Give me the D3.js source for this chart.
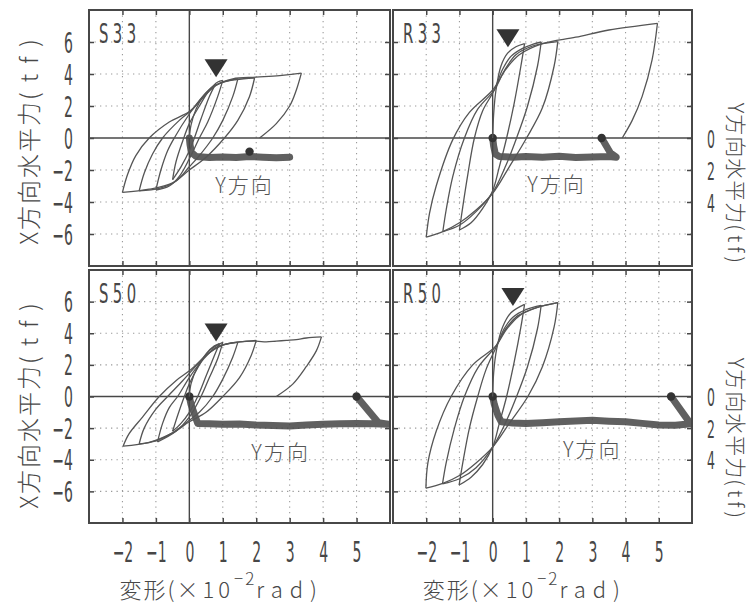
<!DOCTYPE html>
<html><head><meta charset="utf-8">
<script src="https://cdn.jsdelivr.net/npm/d3@7"></script>
<style>body{margin:0;background:#fff}svg{display:block}</style>
</head><body>
<svg id="c" width="754" height="604"></svg>
<script>
// ---------------- data ----------------
const panelNames = ["S33", "R33", "S50", "R50"];
const xTickVals = [-2, -1, 0, 1, 2, 3, 4, 5];
const yTickVals = [-6, -4, -2, 0, 2, 4, 6];
const yDirTickVals = [0, 2, 4];

// X-direction hysteresis branches [deformation (x10^-2 rad), X force (tf)]
const s33X = [
  [[0,0],[0.05,0.8],[0.2,1.8],[0.45,2.7],[0.78,3.35]],
  [[0.78,3.35],[0.6,2.6],[0.35,1.2],[0.15,0],[0,-0.8],[-0.25,-1.8],[-0.5,-2.6]],
  [[-0.5,-2.6],[-0.4,-1.5],[-0.2,-0.2],[0,0.9],[0.3,2.0],[0.6,3.0],[0.85,3.5],[1.0,3.6]],
  [[1.0,3.6],[0.85,2.6],[0.55,1.0],[0.3,0],[0,-1.3],[-0.3,-2.4],[-0.6,-3.0],[-1.0,-3.25]],
  [[-1.0,-3.25],[-0.85,-2.0],[-0.65,-0.8],[-0.45,0],[0,1.5],[0.4,2.6],[0.7,3.2],[1.0,3.5],[1.45,3.7]],
  [[1.45,3.7],[1.3,2.6],[1.0,1.1],[0.7,0],[0.3,-1.1],[0,-1.8],[-0.4,-2.7],[-0.9,-3.15],[-1.5,-3.3]],
  [[-1.5,-3.3],[-1.35,-2.2],[-1.1,-1.0],[-0.8,0],[-0.3,1.1],[0.1,1.8],[0.5,2.8],[0.9,3.4],[1.4,3.65],[1.95,3.75]],
  [[1.95,3.75],[1.8,2.6],[1.45,1.1],[1.05,0],[0.5,-1.2],[0,-2.0],[-0.5,-2.8],[-1.2,-3.2],[-2.0,-3.4]],
  [[-2.0,-3.4],[-1.85,-2.3],[-1.6,-1.1],[-1.2,0],[-0.6,1.0],[0,1.65],[0.4,2.5],[0.8,3.3],[1.3,3.7],[2.0,3.8],[2.7,3.9],[3.35,4.05]],
  [[3.35,4.05],[3.2,3.0],[3.0,2.0],[2.6,0.9],[2.1,0]]
];
const r33X = [
  [[0,0],[0.03,1.5],[0.1,3.0],[0.25,4.5],[0.45,5.3],[0.7,5.7],[0.96,5.9]],
  [[0.96,5.9],[0.85,4.5],[0.65,2.2],[0.42,0],[0.2,-1.8],[0,-3.3],[-0.3,-4.4],[-0.65,-5.3],[-1.0,-5.75]],
  [[-1.0,-5.75],[-0.9,-4.3],[-0.75,-2.3],[-0.55,0],[-0.3,1.7],[0.05,3.0],[0.3,4.3],[0.55,5.1],[0.9,5.6],[1.2,5.85],[1.46,6.0]],
  [[1.46,6.0],[1.35,4.5],[1.05,2.0],[0.72,0],[0.4,-1.7],[0,-3.4],[-0.5,-4.6],[-1.0,-5.45],[-1.5,-5.85]],
  [[-1.5,-5.85],[-1.4,-4.5],[-1.2,-2.4],[-0.85,0],[-0.45,1.8],[0.05,3.0],[0.35,4.2],[0.7,5.2],[1.2,5.75],[1.96,6.02]],
  [[1.96,6.02],[1.85,4.5],[1.5,1.9],[1.02,0],[0.5,-1.8],[0,-3.46],[-0.5,-4.5],[-1.0,-5.3],[-1.5,-5.85],[-2.0,-6.2]],
  [[-2.0,-6.2],[-1.9,-4.7],[-1.7,-3.0],[-1.2,-0.1],[-0.7,1.6],[0,3.0],[0.4,4.3],[0.8,5.2],[1.5,5.9],[2.5,6.3],[3.5,6.75],[4.96,7.17]],
  [[4.96,7.17],[4.8,4.9],[4.5,2.6],[4.2,1.1],[3.9,0]]
];
const s50X = [
  [[0,0],[0.05,0.8],[0.25,1.9],[0.5,2.7],[0.75,3.2],[0.9,3.35]],
  [[0.9,3.35],[0.75,2.6],[0.5,1.3],[0.25,0],[0,-1.0],[-0.25,-1.7],[-0.5,-2.2]],
  [[-0.5,-2.2],[-0.35,-1.2],[-0.15,0],[0,0.8],[0.3,2.0],[0.6,2.9],[1.0,3.42]],
  [[1.0,3.42],[0.85,2.4],[0.6,1.2],[0.35,0],[0,-1.3],[-0.4,-2.2],[-0.95,-2.87]],
  [[-0.95,-2.87],[-0.8,-1.7],[-0.6,-0.7],[-0.35,0],[0,1.2],[0.4,2.3],[0.8,3.1],[1.45,3.42]],
  [[1.45,3.42],[1.3,2.5],[1.0,1.1],[0.7,0],[0.3,-1.0],[0,-1.5],[-0.5,-2.3],[-1.0,-2.8],[-1.5,-3.0]],
  [[-1.5,-3.0],[-1.35,-2.0],[-1.0,-0.8],[-0.65,0],[-0.2,1.0],[0.1,1.7],[0.5,2.6],[1.0,3.25],[1.5,3.45],[2.0,3.55]],
  [[2.0,3.55],[1.85,2.6],[1.5,1.2],[1.0,0],[0.5,-1.0],[0,-1.6],[-0.5,-2.3],[-1.2,-2.9],[-1.98,-3.14]],
  [[-1.98,-3.14],[-1.8,-2.35],[-1.4,-1.3],[-0.9,0],[-0.4,1.0],[0.05,1.7],[0.5,2.6],[0.9,3.2],[1.5,3.45],[2.0,3.5],[2.3,3.45],[2.6,3.5],[2.9,3.55],[3.2,3.6],[3.5,3.7],[3.95,3.77]],
  [[3.95,3.77],[3.8,2.9],[3.5,1.9],[3.1,0.8],[2.6,0]]
];
const r50X = [
  [[0,0],[0.03,1.5],[0.12,3.0],[0.3,4.4],[0.55,5.3],[0.96,5.83]],
  [[0.96,5.83],[0.85,4.4],[0.65,2.2],[0.42,0],[0.2,-1.7],[0,-3.2],[-0.3,-4.3],[-0.65,-5.1],[-1.01,-5.6]],
  [[-1.01,-5.6],[-0.9,-4.2],[-0.7,-2.0],[-0.45,0],[-0.2,1.7],[0.1,3.1],[0.35,4.3],[0.6,5.0],[1.0,5.5],[1.46,5.77]],
  [[1.46,5.77],[1.35,4.3],[1.05,1.9],[0.72,0],[0.4,-1.6],[0,-3.2],[-0.5,-4.5],[-1.0,-5.2],[-1.51,-5.53]],
  [[-1.51,-5.53],[-1.4,-4.2],[-1.15,-2.0],[-0.85,0],[-0.45,1.8],[0.1,3.2],[0.4,4.3],[0.75,5.1],[1.3,5.6],[1.96,5.93]],
  [[1.96,5.93],[1.85,4.4],[1.5,1.9],[1.06,0],[0.5,-1.7],[0,-3.2],[-0.5,-4.2],[-1.0,-5.0],[-1.5,-5.5],[-2.01,-5.8]],
  [[-2.01,-5.8],[-1.95,-4.2],[-1.7,-2.2],[-1.25,0],[-0.6,2.0],[0.1,3.2],[0.4,4.2],[0.8,5.1],[1.3,5.6],[1.96,5.93]]
];

// Y-direction force (tf, plotted downward on right axis)
const s33Y = [[0,0],[0.02,0.4],[0.06,0.9],[0.2,1.15],[0.6,1.22],[1.0,1.18],[1.4,1.22],[1.8,1.15],[2.2,1.2],[2.6,1.24],[3.0,1.2]];
const r33Y = [[0,0],[0.03,0.5],[0.08,1.0],[0.2,1.15],[0.6,1.2],[1.0,1.16],[1.5,1.2],[2.0,1.14],[2.5,1.22],[3.0,1.18],[3.5,1.15],[3.72,1.2],[3.55,0.95],[3.28,0]];
const s50Y = [[0,0],[0.05,0.5],[0.15,1.1],[0.25,1.7],[0.6,1.72],[1.0,1.76],[1.5,1.74],[2.0,1.8],[2.5,1.83],[3.0,1.86],[3.5,1.8],[4.0,1.76],[4.5,1.72],[5.0,1.7],[5.5,1.73],[5.95,1.75],[5.65,1.65],[5.0,0]];
const r50Y = [[0,0],[0.05,0.5],[0.16,1.2],[0.26,1.6],[0.6,1.68],[1.0,1.7],[1.5,1.66],[2.0,1.6],[2.5,1.55],[3.0,1.5],[3.5,1.56],[4.0,1.6],[4.5,1.7],[5.0,1.8],[5.5,1.82],[5.97,1.72],[5.92,1.62],[5.37,0]];

// end-point dots of the Y-direction record [x, Y force]
const s33Dots = [[1.8,0.85]];
const r33Dots = [[0,0],[3.28,0]];
const s50Dots = [[0,0],[5.0,0]];
const r50Dots = [[0,0],[5.37,0]];

// yield markers (tip of ▼) [x, X force]
const yieldTipX = [0.8, 0.46, 0.8, 0.61];
const yieldTipY = [3.8, 5.67, 3.48, 5.72];

// "Y方向" note positions [x, X force]
const noteX = [1.65, 1.92, 2.73, 3.0];
const noteY = [-3.45, -3.4, -4.0, -3.85];

// ---------------- layout ----------------
const colRanges = [[89, 390], [393, 692]];
const rowRanges = [[10, 266], [270, 523]];
const xDomain = [-3, 6], yDomain = [-8, 8];
const ink = "#474747";
const digitFont = "'DejaVu Sans', sans-serif";
const cjkFont = "'Noto Sans CJK JP', 'Noto Sans', sans-serif";

const panels = [
  {name: panelNames[0], col: 0, row: 0, hyst: s33X, ydir: s33Y, dots: s33Dots},
  {name: panelNames[1], col: 1, row: 0, hyst: r33X, ydir: r33Y, dots: r33Dots},
  {name: panelNames[2], col: 0, row: 1, hyst: s50X, ydir: s50Y, dots: s50Dots},
  {name: panelNames[3], col: 1, row: 1, hyst: r50X, ydir: r50Y, dots: r50Dots}
];

const svg = d3.select("#c");
svg.append("rect").attr("width", 754).attr("height", 604).attr("fill", "#fff");

function styleDigits(sel, size) {
  sel.attr("font-family", digitFont).attr("font-size", size).attr("fill", ink);
}

panels.forEach((p, i) => {
  const [xa, xb] = colRanges[p.col], [ya, yb] = rowRanges[p.row];
  const xs = d3.scaleLinear().domain(xDomain).range([xa, xb]);
  const ys = d3.scaleLinear().domain(yDomain).range([yb, ya]);
  const ysR = d3.scaleLinear().domain(yDomain).range([ya, yb]);
  const g = svg.append("g");

  // dotted grid
  g.selectAll(".vg").data(xTickVals.filter(v => v !== 0)).join("line")
    .attr("x1", d => xs(d)).attr("x2", d => xs(d)).attr("y1", ya).attr("y2", yb)
    .attr("stroke", "#9a9a9a").attr("stroke-width", 1.1).attr("stroke-dasharray", "1.3,4.2");
  g.selectAll(".hg").data(yTickVals.filter(v => v !== 0)).join("line")
    .attr("x1", xa).attr("x2", xb).attr("y1", d => ys(d)).attr("y2", d => ys(d))
    .attr("stroke", "#9a9a9a").attr("stroke-width", 1.1).attr("stroke-dasharray", "1.3,4.2");

  // zero axes
  g.append("line").attr("x1", xs(0)).attr("x2", xs(0)).attr("y1", ya).attr("y2", yb)
    .attr("stroke", ink).attr("stroke-width", 1.4);
  g.append("line").attr("x1", xa).attr("x2", xb).attr("y1", ys(0)).attr("y2", ys(0))
    .attr("stroke", ink).attr("stroke-width", 1.4);

  // inner ticks via d3 axes
  const axB = g.append("g").attr("transform", `translate(0,${yb})`)
    .call(d3.axisBottom(xs).tickValues(xTickVals).tickSizeInner(-5).tickSizeOuter(0).tickFormat(""));
  const axT = g.append("g").attr("transform", `translate(0,${ya})`)
    .call(d3.axisTop(xs).tickValues(xTickVals).tickSizeInner(-5).tickSizeOuter(0).tickFormat(""));
  const axL = g.append("g").attr("transform", `translate(${xa},0)`)
    .call(d3.axisLeft(ys).tickValues(yTickVals).tickSizeInner(-5).tickSizeOuter(0).tickFormat(""));
  const axR = g.append("g").attr("transform", `translate(${xb},0)`)
    .call(d3.axisRight(ys).tickValues(yTickVals).tickSizeInner(-5).tickSizeOuter(0).tickFormat(""));
  [axB, axT, axL, axR].forEach(a => {
    a.select(".domain").remove();
    a.selectAll("line").attr("stroke", ink).attr("stroke-width", 1.5);
  });

  // frame
  g.append("rect").attr("x", xa).attr("y", ya).attr("width", xb - xa).attr("height", yb - ya)
    .attr("fill", "none").attr("stroke", ink).attr("stroke-width", 2);

  // tick labels
  if (p.row === 1) {
    const lab = g.append("g").attr("transform", `translate(0,${yb})`)
      .call(d3.axisBottom(xs).tickValues(xTickVals).tickSize(0).tickFormat(d => d < 0 ? "\u2212" + (-d) : d));
    lab.select(".domain").remove();
    lab.selectAll("text").attr("y", 0).attr("dy", null)
      .attr("transform", "translate(0,39) scale(0.5,1)");
    styleDigits(lab.selectAll("text"), 28);
  }
  if (p.col === 0) {
    const lab = g.append("g").attr("transform", `translate(${xa},0)`)
      .call(d3.axisLeft(ys).tickValues(yTickVals).tickSize(0).tickFormat(d => d < 0 ? "\u2212" + (-d) : d));
    lab.select(".domain").remove();
    lab.selectAll("text").attr("x", 0).attr("dy", "0.36em").attr("text-anchor", "end")
      .attr("transform", "translate(-16,0) scale(0.5,1)");
    styleDigits(lab.selectAll("text"), 28);
  } else {
    const lab = g.append("g").attr("transform", `translate(${xb},0)`)
      .call(d3.axisRight(ysR).tickValues(yDirTickVals).tickSize(0));
    lab.select(".domain").remove();
    lab.selectAll("text").attr("x", 0).attr("dy", "0.36em").attr("text-anchor", "middle")
      .attr("transform", "translate(19,0) scale(0.5,1)");
    styleDigits(lab.selectAll("text"), 25);
  }

  // clip
  const cid = "clip" + i;
  svg.append("clipPath").attr("id", cid).append("rect")
    .attr("x", xa).attr("y", ya).attr("width", xb - xa).attr("height", yb - ya);
  const plot = g.append("g").attr("clip-path", `url(#${cid})`);

  // Y-direction record (thick)
  const lineY = d3.line().x(d => xs(d[0])).y(d => ysR(d[1]));
  plot.append("path").attr("d", lineY(p.ydir)).attr("fill", "none")
    .attr("stroke", "#444").attr("stroke-width", 7).attr("stroke-linejoin", "round")
    .attr("stroke-linecap", "round").attr("opacity", 0.85);
  plot.selectAll(".dot").data(p.dots).join("circle")
    .attr("cx", d => xs(d[0])).attr("cy", d => ysR(d[1])).attr("r", 4.2).attr("fill", "#333");

  // X-direction hysteresis
  const lineX = d3.line().x(d => xs(d[0])).y(d => ys(d[1])).curve(d3.curveCatmullRom.alpha(0.5));
  plot.selectAll(".hy").data(p.hyst).join("path").attr("d", lineX).attr("fill", "none")
    .attr("stroke", "#555").attr("stroke-width", 1.3).attr("stroke-linejoin", "round");

  // yield marker
  const tx = xs(yieldTipX[i]), ty = ys(yieldTipY[i]);
  const tri = d3.path();
  tri.moveTo(tx, ty); tri.lineTo(tx - 11.5, ty - 18); tri.lineTo(tx + 11.5, ty - 18); tri.closePath();
  g.append("path").attr("d", tri.toString()).attr("fill", "#333");

  // panel name
  g.append("text").attr("transform", `translate(${xa + 10},${ya + 33}) scale(0.55,1)`)
    .attr("font-family", digitFont).attr("font-size", 27)
    .attr("letter-spacing", 8).attr("fill", ink).text(p.name);

  // "Y方向" note
  g.append("text").attr("x", xs(noteX[i])).attr("y", ys(noteY[i]))
    .attr("text-anchor", "middle").attr("font-family", cjkFont).attr("font-size", 21)
    .attr("font-weight", 300).attr("letter-spacing", 2).attr("fill", "#555").text("Y方向");

  // x title
  if (p.row === 1) {
    const t = svg.append("text").attr("x", xs(1) - 1).attr("y", 598)
      .attr("text-anchor", "middle").attr("font-family", cjkFont).attr("font-size", 22)
      .attr("font-weight", 300).attr("fill", ink);
    t.append("tspan").attr("letter-spacing", 2).text("変形(");
    t.append("tspan").attr("letter-spacing", 4).text("×10");
    t.append("tspan").attr("font-size", 17).attr("dy", -13).attr("letter-spacing", 2).text("−2");
    t.append("tspan").attr("dy", 13).attr("letter-spacing", 7).text("rad)");
  }
  // side titles
  if (p.col === 0) {
    const cy = p.row === 0 ? 137 : 401;
    const t = svg.append("text").attr("transform", `translate(27,${cy}) rotate(-90)`)
      .attr("text-anchor", "middle").attr("dominant-baseline", "central")
      .attr("font-family", cjkFont).attr("font-size", 24).attr("font-weight", 300).attr("fill", ink);
    t.append("tspan").attr("letter-spacing", 2).text("X方向水平力");
    t.append("tspan").attr("letter-spacing", 10).text("(tf)");
  } else {
    const cy = p.row === 0 ? 185 : 440;
    const t = svg.append("text").attr("transform", `translate(737,${cy}) rotate(90)`)
      .attr("text-anchor", "middle").attr("dominant-baseline", "central")
      .attr("font-family", cjkFont).attr("font-size", 21).attr("font-weight", 300).attr("fill", ink);
    t.append("tspan").attr("letter-spacing", 1).text("Y方向水平力");
    t.append("tspan").attr("letter-spacing", 4).text("(tf)");
  }
});
</script>
</body></html>
